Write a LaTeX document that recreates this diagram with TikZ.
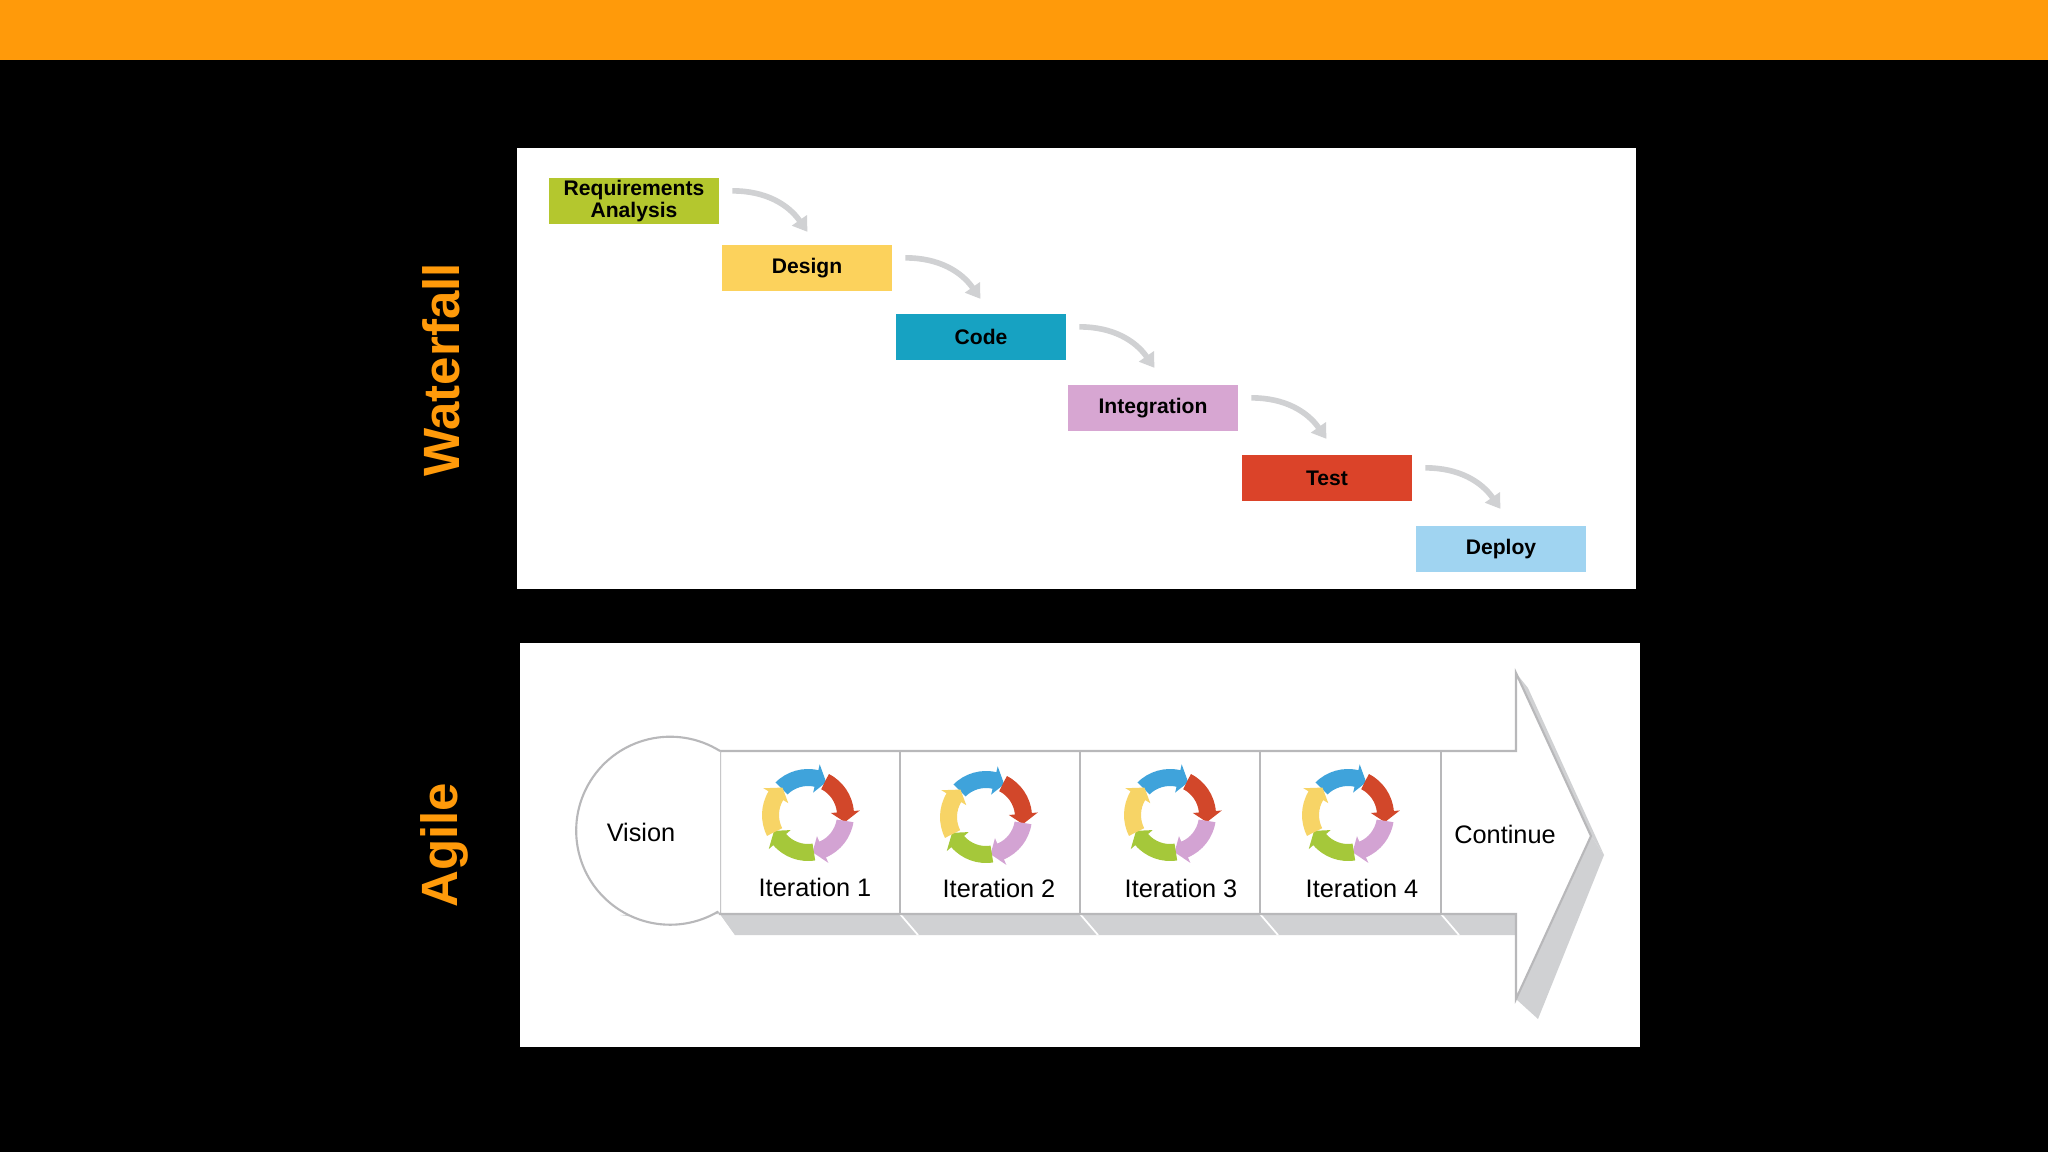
\documentclass[tikz,border=0pt]{standalone}
\usepackage{fontspec}
\setmainfont{Liberation Sans}
\usetikzlibrary{arrows.meta}
\definecolor{orng}{HTML}{FF9A0A}
\definecolor{creq}{HTML}{B4C72E}
\definecolor{cdes}{HTML}{FCD25C}
\definecolor{ccode}{HTML}{17A2C2}
\definecolor{cint}{HTML}{D7A6D2}
\definecolor{ctest}{HTML}{DB4329}
\definecolor{cdep}{HTML}{A0D4F1}
\definecolor{sh}{HTML}{D0D1D3}
\definecolor{ln}{HTML}{B8B8BA}
\definecolor{cb}{HTML}{3FA3DB}
\definecolor{cr}{HTML}{D2472A}
\definecolor{cp}{HTML}{D3A3D3}
\definecolor{cg}{HTML}{A5C83A}
\definecolor{cy}{HTML}{F7D466}
\tikzset{
 wbox/.style={minimum width=170*0.2835pt,minimum height=47*0.2835pt,inner sep=0pt,font=\fontsize{6}{6.5}\selectfont\bfseries,align=center},
 flow/.style={draw=sh,line width=1.6pt,-{Triangle[length=4pt,width=5pt]}},
 ilabel/.style={font=\fontsize{7.2}{8}\selectfont},
}
\newcommand{\cyc}[1]{%
 \begin{scope}[shift={#1}]
 \foreach \s/\c in {135/cb,63/cr,-9/cp,-81/cg,-153/cy}{
  \pgfmathsetmacro{\e}{\s-58}
  \pgfmathsetmacro{\t}{\s-74}
  \fill[\c] (\s:29) -- (\s:46) arc[start angle=\s,end angle=\e,radius=46] -- (\e:52) -- (\t:37.5) -- (\e:23) -- (\e:29) arc[start angle=\e,end angle=\s,radius=29] -- cycle;
 }
 \end{scope}}
\begin{document}
\begin{tikzpicture}[x=0.01cm,y=0.01cm]
\fill[black] (0,0) rectangle (2048,-1152);
\useasboundingbox (0,0) rectangle (2048,-1152);
\fill[orng] (0,0) rectangle (2048,-60);
% Waterfall
\fill[white] (517,-148) rectangle (1636,-589);
\node[orng,rotate=90,font=\fontsize{14.5}{15}\selectfont\bfseries] (wt) at (441,-370) {Waterfall};
\node[orng,rotate=90,font=\fontsize{14.5}{15}\selectfont\bfseries] (ag) at (444,-845) {Agile};
\node[wbox,fill=creq] (req) at (634,-201) {Requirements\\Analysis};
\node[wbox,fill=cdes] (des) at (807,-268) {Design};
\node[wbox,fill=ccode] (code) at (981,-337) {Code};
\node[wbox,fill=cint] (int) at (1153,-408) {Integration};
\node[wbox,fill=ctest] (test) at (1327,-478) {Test};
\node[wbox,fill=cdep] (dep) at (1501,-549) {Deploy};
\foreach \a in {req,des,code,int,test}{
  \coordinate (e\a) at ([shift={(88,-55)}]\a.north east);
  \draw[flow] ([shift={(13,-14)}]\a.north east) to[out=0,in=125] (e\a);
}
% Agile
\fill[white] (520,-643) rectangle (1640,-1047);
% shadows
\fill[sh] (620,-915) arc[start angle=-100,end angle=-40,radius=95] -- (735,-935) -- (720,-914) -- cycle;
\fill[sh] (720,-914) -- (1516,-914) -- (1516,-935) -- (735,-935) -- cycle;
\fill[sh] (1591,-836) -- (1604,-855) -- (1538,-1019) -- (1516,-999) -- cycle;
\fill[sh] (1516,-673) -- (1528,-688) -- (1604,-855) -- (1591,-836) -- cycle;
\foreach \x in {900,1080,1260,1441}{\draw[white,line width=0.5pt] (\x,-914) -- (\x+18,-935);}
% band
\draw[ln,fill=white,line width=0.6pt] (720,-751) -- (1516,-751) -- (1516,-673) -- (1591,-836) -- (1516,-999) -- (1516,-914) -- (720,-914) -- cycle;
\foreach \x in {900,1080,1260,1441}{\draw[ln,line width=0.6pt] (\x,-751) -- (\x,-914);}
\draw[ln,fill=white,line width=0.6pt] (720,-751) arc[start angle=58,end angle=302,radius=94] ;
\fill[white] (720,-752) -- (643,-832) -- (720,-913) -- cycle;
\node[circle,minimum size=10pt,inner sep=0pt,ilabel] (vis) at (641,-832) {Vision};
\node[ilabel] (cont) at (1505,-834) {Continue};
\node[ilabel] (i1) at (815,-887) {Iteration 1};
\node[ilabel] (i2) at (999,-888) {Iteration 2};
\node[ilabel] (i3) at (1181,-888) {Iteration 3};
\node[ilabel] (i4) at (1362,-888) {Iteration 4};
\cyc{(808,-815)}
\cyc{(986,-817)}
\cyc{(1170,-815)}
\cyc{(1348,-815)}
\end{tikzpicture}
\end{document}
